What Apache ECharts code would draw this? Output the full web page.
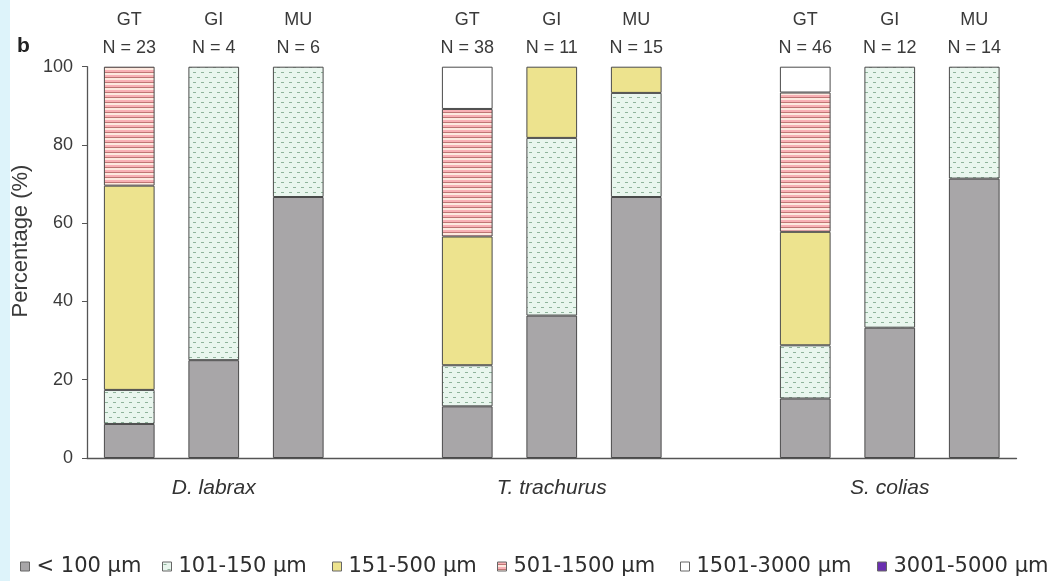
<!DOCTYPE html>
<html>
<head>
<meta charset="utf-8">
<script src="https://cdn.jsdelivr.net/npm/echarts@6/dist/echarts.min.js"></script>
<style>
html,body{margin:0;padding:0;background:#fff;}
#c{width:1051px;height:581px;}
</style>
</head>
<body>
<div id="c"></div>
<script>
// Categories (blank slots separate the species groups)
const tissues = ['GT','GI','MU','','GT','GI','MU','','GT','GI','MU'];
const sampleN = [23, 4, 6, null, 38, 11, 15, null, 46, 12, 14];
const species = ['', 'D. labrax', '', '', '', 'T. trachurus', '', '', '', 'S. colias', ''];
const sizeClasses = ['< 100 µm','101-150 µm','151-500 µm','501-1500 µm','1501-3000 µm','3001-5000 µm'];

// Percentages per size class (bottom to top of each stack)
const lt100   = [8.7, 25.0, 66.7, null, 13.2, 36.4, 66.7, null, 15.2, 33.3, 71.4];
const s101    = [8.7, 75.0, 33.3, null, 10.5, 45.4, 26.6, null, 13.6, 66.7, 28.6];
const s151    = [52.2, null, null, null, 32.9, 18.2, 6.7, null, 29.0, null, null];
const s501    = [30.4, null, null, null, 32.6, null, null, null, 35.6, null, null];
const s1501   = [null, null, null, null, 10.8, null, null, null, 6.6, null, null];
const s3001   = [null, null, null, null, null, null, null, null, null, null, null];
const yTicks = [0, 20, 40, 60, 80, 100];

function makeGreen(){
  const c = document.createElement('canvas'); c.width = 8; c.height = 10;
  const g = c.getContext('2d');
  g.fillStyle = '#e9f6ee'; g.fillRect(0,0,8,10);
  g.fillStyle = '#8fb39b';
  g.fillRect(1,2,3,1);
  g.fillRect(5,7,3,1);
  return c;
}
function makeRed(){
  const c = document.createElement('canvas'); c.width = 4; c.height = 5;
  const g = c.getContext('2d');
  g.fillStyle = '#f8b0b5'; g.fillRect(0,0,4,2);
  g.fillStyle = '#bf7574'; g.fillRect(0,2,4,1);
  g.fillStyle = '#fde9df'; g.fillRect(0,3,4,2);
  return c;
}
const greenPat = {image: makeGreen(), repeat: 'repeat'};
const redPat = {image: makeRed(), repeat: 'repeat'};

const seriesData = [lt100, s101, s151, s501, s1501, s3001];
const fills = ['#a8a6a8', greenPat, '#ede38e', redPat, '#ffffff', '#6a2fb0'];

const topLabels = tissues.map((t,i)=> t ? t + '\nN = ' + sampleN[i] : '');

const chart = echarts.init(document.getElementById('c'), null, {renderer:'canvas'});
const FONT = '"Liberation Sans", Arial, sans-serif';

const legendLeft = [20, 162, 332, 497, 680, 877];

const option = {
  backgroundColor: '#ffffff',
  animation: false,
  textStyle: {fontFamily: FONT},
  grid: {left: 87, right: 34.5, top: 66.7, bottom: 123},
  legend: sizeClasses.map((name, i) => ({
    data: [name],
    left: legendLeft[i],
    top: 556,
    icon: 'rect',
    itemWidth: 9,
    itemHeight: 9,
    padding: 0,
    selectedMode: false,
    itemStyle: {borderColor: '#666', borderWidth: 1},
    textStyle: {fontFamily: '"DejaVu Sans", sans-serif', fontSize: 21, color: '#2e2e2e', padding: [0,0,0,2]}
  })),
  xAxis: [
    {
      type: 'category',
      data: species,
      position: 'bottom',
      axisLine: {lineStyle: {color: '#555', width: 1.3}},
      axisTick: {show: false},
      axisLabel: {interval: 0, fontStyle: 'italic', fontSize: 21, color: '#333', margin: 20, fontFamily: FONT}
    },
    {
      type: 'category',
      data: topLabels,
      position: 'top',
      axisLine: {show: false},
      axisTick: {show: false},
      axisLabel: {interval: 0, fontSize: 18, lineHeight: 28, color: '#3a3a3a', margin: 5, fontFamily: FONT}
    }
  ],
  yAxis: {
    type: 'value',
    min: 0, max: 100, interval: 20,
    splitLine: {show: false},
    axisLine: {show: true, lineStyle: {color: '#555', width: 1.3}},
    axisTick: {show: true, length: 5, lineStyle: {color: '#555'}},
    axisLabel: {fontSize: 18, color: '#3a3a3a', margin: 14, fontFamily: FONT,
      formatter: v => yTicks.includes(v) ? String(v) : ''}
  },
  graphic: [
    {type: 'rect', left: 0, top: 0, shape: {width: 10, height: 581}, style: {fill: '#ddf3fa'}, silent: true},
    {type: 'text', x: 17, y: 36, style: {text: 'b', font: 'bold 21px ' + FONT, fill: '#222'}},
    {type: 'text', x: 21, y: 241, rotation: Math.PI/2,
      style: {text: 'Percentage (%)', font: '22px ' + FONT, fill: '#3a3a3a', align: 'center', verticalAlign: 'middle'}}
  ],
  series: sizeClasses.map((name, i) => ({
    name: name,
    type: 'bar',
    stack: 'all',
    barWidth: '60%',
    data: seriesData[i],
    itemStyle: {color: fills[i], borderColor: '#4a4a4a', borderWidth: 1}
  }))
};
chart.setOption(option);
</script>
</body>
</html>
